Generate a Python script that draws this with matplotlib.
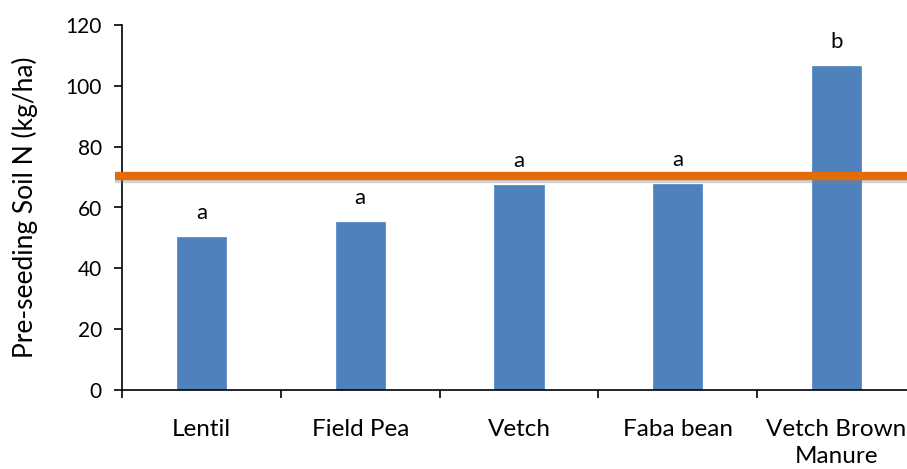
import matplotlib
matplotlib.use("Agg")
import matplotlib.pyplot as plt
import matplotlib.patheffects as pe
import numpy as np

categories = ["Lentil", "Field Pea", "Vetch", "Faba bean", "Vetch Brown\nManure"]
soil_n = [50.4, 55.3, 67.4, 67.8, 106.6]
letters = ["a", "a", "a", "a", "b"]
threshold = 70.5
yticks = [0, 20, 40, 60, 80, 100, 120]

plt.rcParams['font.family'] = ['Lato', 'DejaVu Sans']

fig = plt.figure(figsize=(9.07, 4.69), dpi=100)
ax = fig.add_axes([122/907, 79/469, 794/907, 365/469])

x = np.arange(len(categories))
ax.bar(x, soil_n, width=0.31, color="#4F81BD", edgecolor="#5B8CC6", linewidth=0.6, zorder=2)

for xi, v, l in zip(x, soil_n, letters):
    ax.annotate(l, (xi, v), xytext=(0, 13), textcoords="offset points",
                ha="center", va="baseline", fontsize=16, color="black")

ax.plot([-0.545, 4.6], [threshold, threshold], color="#E36C0A", lw=6, solid_capstyle="butt",
        clip_on=False, zorder=3,
        path_effects=[pe.SimpleLineShadow(offset=(0, -2.5), shadow_color="gray", alpha=0.35),
                      pe.Normal()])

ax.set_xlim(-0.5, 4.5)
ax.set_ylim(0, 120)
ax.set_yticks(yticks)
ax.set_yticklabels([str(t) for t in yticks])
ax.set_xticks(x)
ax.set_xticklabels(categories, fontsize=17.5, linespacing=1.35)
ax.set_xticks(np.arange(-0.5, 5.0, 1.0), minor=True)
ax.tick_params(axis="x", which="major", length=0, pad=21)
ax.tick_params(axis="x", which="minor", length=6, width=1.2, color="black", direction="out")
ax.tick_params(axis="y", length=5.5, width=1.2, pad=9, labelsize=15, direction="out")

for s in ["top", "right"]:
    ax.spines[s].set_visible(False)
for s in ["left", "bottom"]:
    ax.spines[s].set_linewidth(1.2)
    ax.spines[s].set_color("black")

ax.set_ylabel("Pre-seeding Soil N (kg/ha)", fontsize=19)
ax.yaxis.set_label_coords(-(122 - 38) / 794, 0.5)

fig.savefig("out.png", dpi=100)
